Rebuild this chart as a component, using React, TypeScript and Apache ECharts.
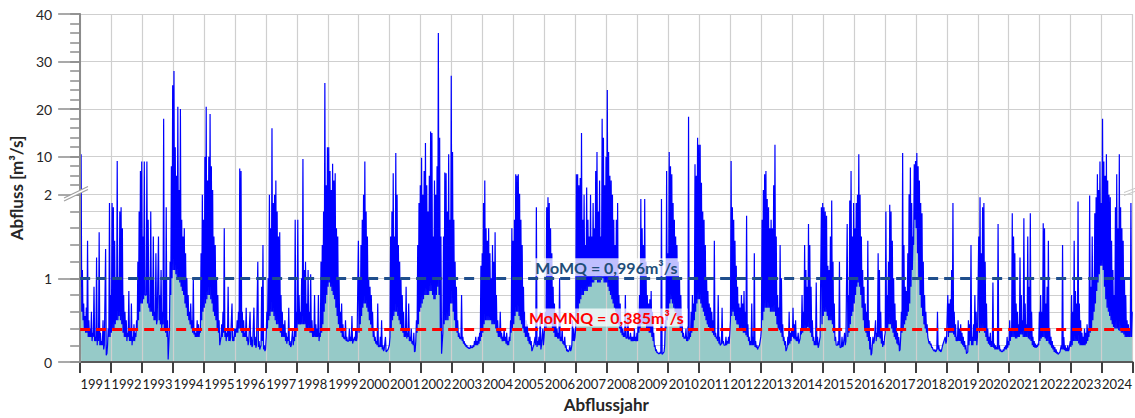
import React, { useEffect, useRef } from "react";
import * as echarts from "echarts";

// Hydrological years (category labels)
const years = ["1991","1992","1993","1994","1995","1996","1997","1998","1999","2000","2001","2002","2003","2004","2005","2006","2007","2008","2009","2010","2011","2012","2013","2014","2015","2016","2017","2018","2019","2020","2021","2022","2023","2024"];

// Discharge peaks [m³/s], one reading per half-month of each hydrological year
const q1991 = [10.5, 1.1, 0.7, 0.55, 0.65, 1.45, 0.5, 0.4, 0.6, 0.35, 0.9, 0.3, 1.25, 0.4, 1.55, 0.35, 0.25, 0.5, 0.2, 1.35, 0.1, 0.4, 1.9, 0.8];
const q1992 = [1.9, 1.85, 1.45, 1.0, 9.1, 1.0, 1.8, 1.85, 1.6, 0.8, 0.6, 0.5, 0.35, 0.85, 0.4, 0.7, 0.3, 0.45, 0.35, 0.5, 1.2, 1.8, 7, 9];
const q1993 = [1.5, 9, 0.8, 9, 1.7, 0.7, 1.8, 1.0, 1.5, 0.6, 1.3, 0.5, 1.5, 0.8, 1.1, 0.6, 18, 1.0, 1.85, 0.5, 0.03, 1.2, 8, 25];
const q1994 = [28, 12, 6, 20.5, 3, 20, 1.7, 1.5, 1.6, 1.3, 1.0, 0.8, 0.6, 0.7, 0.5, 1.0, 0.4, 0.35, 0.5, 0.45, 0.4, 1.3, 2.0, 1.7];
const q1995 = [10, 20.5, 5, 10, 19, 8, 3, 1.5, 1.4, 1.0, 0.8, 0.5, 0.2, 0.45, 0.6, 1.6, 0.4, 0.35, 0.9, 0.4, 0.3, 0.7, 0.3, 0.4];
const q1996 = [0.4, 0.5, 0.6, 7.5, 7, 0.6, 0.5, 0.35, 0.65, 0.3, 0.25, 0.6, 0.3, 0.2, 0.65, 0.3, 0.2, 1.2, 0.25, 0.15, 0.9, 1.4, 0.2, 0.15];
const q1997 = [0.6, 1.0, 2.0, 1.6, 16, 1.9, 2.0, 5, 1.8, 1.5, 1.55, 0.8, 0.6, 0.45, 0.5, 0.35, 0.3, 0.65, 0.25, 0.2, 0.4, 0.3, 1.7, 0.6];
const q1998 = [1.7, 0.8, 0.6, 1.0, 9.5, 1.1, 1.2, 0.7, 1.1, 0.6, 1.05, 0.5, 0.4, 0.8, 0.45, 0.4, 0.8, 0.35, 1.2, 1.4, 1.8, 25.5, 4, 12];
const q1999 = [12, 7, 3, 8.5, 5, 6.5, 1.6, 1.5, 1.0, 0.6, 0.7, 0.45, 0.3, 0.5, 0.3, 0.25, 0.4, 0.3, 0.55, 0.25, 0.3, 0.4, 0.3, 1.45];
const q2000 = [1.0, 1.4, 1.7, 2.0, 9, 1.8, 1.5, 1.0, 0.9, 0.8, 0.6, 0.4, 0.3, 0.25, 0.7, 0.2, 0.3, 0.5, 0.2, 0.15, 0.3, 0.13, 0.15, 0.2];
const q2001 = [1.5, 1.8, 6.5, 1.5, 10.8, 2.0, 1.4, 1.2, 1.0, 0.8, 0.6, 0.4, 0.9, 0.35, 0.7, 0.3, 0.4, 0.25, 0.35, 0.13, 0.5, 1.4, 1.9, 4];
const q2002 = [9.8, 2.0, 7, 12.9, 4, 1.8, 6, 15.3, 15, 1.5, 5, 2.0, 8, 36, 14, 1.5, 0.1, 1.5, 6.7, 6.5, 1.8, 10.5, 1.7, 27];
const q2003 = [11, 1.7, 1.2, 0.9, 0.5, 0.35, 0.3, 0.8, 0.3, 0.25, 0.22, 0.2, 0.18, 0.17, 0.2, 0.18, 0.2, 0.25, 0.3, 0.25, 0.3, 0.35, 1.15, 1.3];
const q2004 = [1.9, 5, 1.6, 1.45, 1.6, 1.3, 1.0, 1.4, 1.2, 1.55, 0.8, 0.5, 0.4, 0.6, 0.35, 0.3, 0.4, 0.3, 0.35, 0.25, 0.3, 0.5, 1.6, 1.45];
const q2005 = [1.7, 6.3, 6, 6.3, 2.2, 1.7, 1.4, 0.9, 0.6, 0.5, 0.45, 0.35, 0.3, 0.25, 0.15, 0.2, 0.3, 1.85, 0.25, 0.3, 0.6, 0.2, 0.4, 0.3];
const q2006 = [0.6, 1.85, 1.97, 1.9, 1.6, 1.3, 0.9, 0.7, 0.5, 0.4, 0.35, 1.0, 0.3, 0.4, 0.25, 0.3, 0.2, 0.15, 0.13, 0.2, 0.15, 0.5, 0.4, 0.3];
const q2007 = [6.3, 6.3, 4, 5.5, 15, 1.7, 2.0, 1.4, 3.5, 1.7, 1.5, 2.0, 1.5, 1.9, 1.6, 7, 11, 1.8, 5, 1.5, 18, 14, 4, 10];
const q2008 = [24, 11, 6, 5, 2.0, 1.7, 1.4, 1.7, 1.9, 0.8, 0.7, 0.45, 0.4, 0.35, 0.8, 0.3, 0.6, 0.3, 0.35, 0.3, 0.3, 0.4, 0.3, 0.35];
const q2009 = [0.6, 0.8, 1.95, 1.6, 1.4, 1.95, 1.2, 0.8, 0.7, 0.75, 0.85, 0.6, 0.35, 0.2, 0.15, 0.12, 0.1, 0.12, 1.95, 0.1, 0.12, 0.5, 7, 1.3];
const q2010 = [11, 8, 6.3, 1.9, 1.7, 1.5, 1.4, 1.2, 1.0, 0.8, 0.5, 0.35, 0.3, 0.4, 0.3, 18.4, 0.35, 0.6, 0.8, 0.7, 8.4, 6, 14, 12.5];
const q2011 = [12.5, 4.5, 1.8, 1.7, 1.4, 1.0, 0.85, 0.7, 0.65, 0.6, 0.5, 1.45, 0.35, 0.3, 0.8, 0.3, 0.2, 0.65, 0.25, 0.2, 0.3, 0.25, 0.3, 0.35];
const q2012 = [9.1, 1.85, 1.7, 1.45, 1.15, 0.9, 0.7, 0.65, 0.8, 0.7, 0.85, 0.6, 1.75, 0.45, 0.3, 0.25, 0.7, 0.3, 1.3, 0.25, 0.2, 0.17, 0.2, 0.3];
const q2013 = [1.7, 3, 6.3, 7, 1.95, 1.85, 1.6, 1.7, 1.6, 4, 12.5, 1.5, 0.8, 0.65, 1.4, 1.0, 0.45, 0.3, 0.25, 0.15, 0.3, 0.6, 0.35, 0.4];
const q2014 = [0.65, 0.45, 0.5, 0.3, 0.35, 0.25, 0.4, 0.8, 0.6, 1.4, 1.1, 0.9, 1.65, 1.4, 0.9, 0.5, 0.3, 0.25, 0.95, 0.3, 0.2, 0.3, 1.85, 1.9];
const q2015 = [1.85, 1.8, 1.75, 1.15, 1.1, 1.5, 1.93, 1.2, 0.7, 0.3, 0.2, 0.25, 1.2, 0.17, 0.3, 0.2, 0.35, 0.25, 1.65, 0.8, 1.93, 7, 1.5, 1.9];
const q2016 = [1.6, 1.9, 2.0, 10.5, 2.0, 1.5, 1.1, 0.9, 0.7, 0.6, 1.45, 0.5, 0.3, 0.1, 0.3, 0.25, 0.5, 0.35, 1.3, 1.1, 0.6, 0.4, 0.25, 0.3];
const q2017 = [1.8, 0.8, 1.2, 1.88, 1.8, 1.45, 1.0, 0.7, 0.5, 0.35, 0.3, 0.15, 0.6, 10.8, 1.4, 0.9, 0.85, 1.3, 2.1, 7.7, 1.9, 1.5, 8.4, 9.1];
const q2018 = [10.8, 8, 5, 1.9, 1.78, 1.2, 0.8, 0.6, 0.45, 0.3, 0.25, 0.22, 0.18, 0.15, 0.15, 0.13, 0.6, 0.2, 0.15, 0.13, 0.2, 0.25, 0.3, 0.25];
const q2019 = [0.8, 0.7, 0.75, 1.1, 1.9, 0.6, 0.45, 0.3, 0.5, 0.4, 0.45, 0.35, 0.3, 0.25, 0.2, 0.1, 0.5, 0.45, 1.4, 0.3, 0.45, 0.8, 0.6, 0.3];
const q2020 = [1.5, 1.97, 1.3, 1.85, 1.9, 1.2, 0.7, 0.4, 0.3, 0.35, 0.25, 0.95, 0.22, 0.2, 0.18, 1.65, 0.2, 0.15, 0.13, 0.15, 0.18, 0.2, 0.3, 0.25];
const q2021 = [0.5, 0.4, 1.78, 1.5, 1.3, 0.7, 0.6, 0.45, 1.25, 0.8, 0.5, 1.72, 0.7, 0.45, 1.5, 0.9, 1.78, 0.6, 0.3, 0.25, 0.22, 0.2, 0.22, 0.6];
const q2022 = [0.8, 0.6, 1.66, 1.6, 0.7, 0.9, 1.45, 0.4, 0.3, 0.25, 0.2, 0.18, 0.15, 0.12, 0.1, 0.12, 0.2, 1.4, 0.3, 0.2, 0.17, 0.2, 0.15, 0.25];
const q2023 = [0.8, 0.6, 1.45, 0.85, 0.7, 1.92, 0.7, 0.5, 0.35, 0.3, 0.4, 0.35, 0.45, 0.4, 1.99, 0.9, 1.5, 1.0, 1.78, 1.97, 6.3, 3, 9, 1.9];
const q2024 = [18, 9, 6, 10.5, 5, 2.0, 1.97, 1.45, 1.1, 0.8, 1.85, 6.3, 1.6, 10.5, 1.85, 1.6, 1.45, 1.0, 0.8, 0.5, 0.45, 0.4, 1.9, 0.6];

// Base flow between the peaks [m³/s] (lower envelope), one reading per half-month
const base1991 = [0.9, 0.6, 0.5, 0.4, 0.35, 0.35, 0.3, 0.3, 0.3, 0.25, 0.3, 0.25, 0.25, 0.2, 0.25, 0.2, 0.2, 0.2, 0.15, 0.2, 0.08, 0.2, 0.3, 0.3];
const base1992 = [0.35, 0.4, 0.4, 0.45, 0.5, 0.5, 0.55, 0.5, 0.45, 0.35, 0.3, 0.3, 0.25, 0.3, 0.25, 0.25, 0.2, 0.25, 0.25, 0.3, 0.4, 0.5, 0.6, 0.7];
const base1993 = [0.7, 0.75, 0.8, 0.8, 0.7, 0.65, 0.6, 0.6, 0.55, 0.5, 0.5, 0.45, 0.5, 0.5, 0.45, 0.4, 0.45, 0.4, 0.35, 0.3, 0.03, 0.4, 0.8, 1.0];
const base1994 = [1.1, 1.1, 1.05, 1.0, 1.0, 0.95, 0.9, 0.85, 0.8, 0.7, 0.65, 0.55, 0.5, 0.45, 0.4, 0.35, 0.33, 0.3, 0.3, 0.3, 0.3, 0.35, 0.5, 0.6];
const base1995 = [0.65, 0.7, 0.75, 0.8, 0.8, 0.75, 0.7, 0.6, 0.55, 0.5, 0.4, 0.35, 0.2, 0.3, 0.3, 0.35, 0.3, 0.25, 0.3, 0.25, 0.25, 0.3, 0.25, 0.25];
const base1996 = [0.3, 0.35, 0.35, 0.4, 0.4, 0.35, 0.3, 0.3, 0.3, 0.25, 0.2, 0.25, 0.2, 0.18, 0.2, 0.2, 0.17, 0.2, 0.18, 0.15, 0.2, 0.25, 0.15, 0.13];
const base1997 = [0.3, 0.4, 0.5, 0.55, 0.6, 0.6, 0.55, 0.5, 0.45, 0.45, 0.4, 0.35, 0.3, 0.3, 0.3, 0.25, 0.22, 0.25, 0.2, 0.18, 0.2, 0.2, 0.25, 0.3];
const base1998 = [0.4, 0.45, 0.45, 0.45, 0.45, 0.45, 0.45, 0.4, 0.4, 0.4, 0.35, 0.35, 0.3, 0.3, 0.3, 0.3, 0.3, 0.25, 0.3, 0.35, 0.45, 0.6, 0.7, 0.8];
const base1999 = [0.9, 0.95, 0.9, 0.85, 0.8, 0.75, 0.65, 0.55, 0.45, 0.4, 0.35, 0.3, 0.28, 0.27, 0.25, 0.25, 0.25, 0.25, 0.25, 0.22, 0.25, 0.25, 0.25, 0.3];
const base2000 = [0.35, 0.45, 0.55, 0.65, 0.7, 0.7, 0.65, 0.6, 0.5, 0.45, 0.4, 0.3, 0.25, 0.22, 0.2, 0.18, 0.18, 0.18, 0.15, 0.13, 0.15, 0.12, 0.13, 0.15];
const base2001 = [0.3, 0.4, 0.5, 0.55, 0.6, 0.6, 0.55, 0.5, 0.45, 0.4, 0.35, 0.3, 0.3, 0.28, 0.3, 0.25, 0.25, 0.22, 0.2, 0.12, 0.25, 0.35, 0.45, 0.6];
const base2002 = [0.65, 0.7, 0.75, 0.8, 0.8, 0.8, 0.8, 0.85, 0.85, 0.8, 0.75, 0.75, 0.8, 0.9, 0.8, 0.4, 0.1, 0.35, 0.45, 0.5, 0.5, 0.5, 0.55, 0.7];
const base2003 = [0.7, 0.6, 0.5, 0.4, 0.35, 0.3, 0.28, 0.27, 0.25, 0.22, 0.2, 0.18, 0.17, 0.16, 0.16, 0.17, 0.17, 0.18, 0.2, 0.2, 0.2, 0.22, 0.25, 0.3];
const base2004 = [0.35, 0.45, 0.5, 0.5, 0.5, 0.5, 0.5, 0.45, 0.45, 0.45, 0.4, 0.35, 0.3, 0.3, 0.28, 0.25, 0.25, 0.25, 0.22, 0.2, 0.2, 0.25, 0.35, 0.4];
const base2005 = [0.45, 0.55, 0.6, 0.6, 0.55, 0.5, 0.45, 0.4, 0.35, 0.3, 0.3, 0.25, 0.22, 0.2, 0.13, 0.18, 0.2, 0.2, 0.18, 0.2, 0.2, 0.15, 0.2, 0.2];
const base2006 = [0.3, 0.4, 0.5, 0.5, 0.5, 0.45, 0.4, 0.35, 0.3, 0.3, 0.28, 0.28, 0.25, 0.25, 0.22, 0.2, 0.17, 0.13, 0.12, 0.15, 0.13, 0.2, 0.25, 0.25];
const base2007 = [0.4, 0.55, 0.6, 0.7, 0.75, 0.8, 0.8, 0.85, 0.85, 0.85, 0.9, 0.9, 0.9, 0.95, 0.95, 1.0, 1.0, 0.95, 0.95, 0.95, 1.0, 1.0, 0.95, 0.95];
const base2008 = [0.95, 0.9, 0.85, 0.8, 0.75, 0.7, 0.65, 0.6, 0.5, 0.45, 0.4, 0.35, 0.32, 0.3, 0.3, 0.28, 0.28, 0.27, 0.27, 0.25, 0.25, 0.25, 0.25, 0.25];
const base2009 = [0.25, 0.35, 0.4, 0.45, 0.45, 0.45, 0.45, 0.4, 0.4, 0.35, 0.35, 0.3, 0.25, 0.18, 0.13, 0.11, 0.1, 0.1, 0.1, 0.09, 0.1, 0.2, 0.4, 0.5];
const base2010 = [0.6, 0.7, 0.75, 0.7, 0.65, 0.6, 0.55, 0.5, 0.45, 0.4, 0.35, 0.3, 0.28, 0.28, 0.25, 0.25, 0.27, 0.3, 0.35, 0.4, 0.5, 0.6, 0.7, 0.75];
const base2011 = [0.75, 0.7, 0.65, 0.6, 0.55, 0.5, 0.45, 0.42, 0.4, 0.37, 0.35, 0.32, 0.3, 0.28, 0.25, 0.22, 0.2, 0.22, 0.22, 0.2, 0.2, 0.2, 0.22, 0.22];
const base2012 = [0.5, 0.55, 0.6, 0.55, 0.5, 0.45, 0.45, 0.4, 0.4, 0.4, 0.35, 0.35, 0.32, 0.3, 0.25, 0.2, 0.2, 0.2, 0.2, 0.18, 0.17, 0.15, 0.17, 0.2];
const base2013 = [0.4, 0.5, 0.6, 0.65, 0.65, 0.65, 0.65, 0.6, 0.6, 0.6, 0.6, 0.55, 0.45, 0.4, 0.38, 0.35, 0.3, 0.25, 0.2, 0.13, 0.18, 0.2, 0.22, 0.25];
const base2014 = [0.3, 0.28, 0.27, 0.25, 0.25, 0.22, 0.28, 0.33, 0.35, 0.4, 0.4, 0.4, 0.42, 0.4, 0.35, 0.3, 0.25, 0.2, 0.2, 0.2, 0.17, 0.2, 0.3, 0.45];
const base2015 = [0.55, 0.6, 0.6, 0.55, 0.5, 0.5, 0.5, 0.45, 0.35, 0.25, 0.2, 0.2, 0.2, 0.17, 0.18, 0.18, 0.2, 0.2, 0.25, 0.3, 0.35, 0.45, 0.55, 0.6];
const base2016 = [0.7, 0.8, 0.9, 0.95, 0.9, 0.8, 0.65, 0.5, 0.4, 0.35, 0.3, 0.25, 0.15, 0.08, 0.2, 0.22, 0.25, 0.25, 0.3, 0.3, 0.28, 0.22, 0.18, 0.2];
const base2017 = [0.35, 0.4, 0.4, 0.45, 0.45, 0.4, 0.35, 0.3, 0.27, 0.22, 0.2, 0.13, 0.3, 0.35, 0.4, 0.45, 0.5, 0.55, 0.6, 0.7, 0.9, 1.1, 1.4, 1.7];
const base2018 = [1.6, 1.3, 1.0, 0.8, 0.65, 0.55, 0.45, 0.4, 0.35, 0.3, 0.22, 0.2, 0.17, 0.15, 0.13, 0.12, 0.15, 0.15, 0.13, 0.12, 0.13, 0.2, 0.25, 0.22];
const base2019 = [0.25, 0.3, 0.35, 0.35, 0.35, 0.33, 0.3, 0.25, 0.25, 0.25, 0.25, 0.22, 0.2, 0.18, 0.15, 0.1, 0.12, 0.2, 0.25, 0.2, 0.2, 0.25, 0.25, 0.2];
const base2020 = [0.3, 0.35, 0.4, 0.4, 0.38, 0.35, 0.3, 0.25, 0.22, 0.2, 0.18, 0.18, 0.17, 0.15, 0.15, 0.15, 0.15, 0.13, 0.12, 0.12, 0.13, 0.15, 0.15, 0.17];
const base2021 = [0.2, 0.25, 0.3, 0.3, 0.3, 0.28, 0.28, 0.3, 0.3, 0.33, 0.33, 0.3, 0.3, 0.3, 0.3, 0.28, 0.27, 0.25, 0.2, 0.18, 0.17, 0.17, 0.18, 0.2];
const base2022 = [0.25, 0.28, 0.3, 0.3, 0.28, 0.25, 0.25, 0.22, 0.2, 0.17, 0.15, 0.12, 0.11, 0.1, 0.09, 0.1, 0.12, 0.15, 0.15, 0.14, 0.13, 0.13, 0.13, 0.15];
const base2023 = [0.18, 0.2, 0.25, 0.25, 0.25, 0.25, 0.22, 0.2, 0.2, 0.2, 0.2, 0.2, 0.22, 0.25, 0.3, 0.35, 0.4, 0.5, 0.6, 0.7, 0.85, 0.95, 1.05, 1.15];
const base2024 = [1.15, 1.1, 0.9, 0.75, 0.65, 0.6, 0.55, 0.5, 0.45, 0.42, 0.4, 0.4, 0.4, 0.38, 0.37, 0.35, 0.35, 0.33, 0.3, 0.3, 0.3, 0.3, 0.3, 0.3];

const yearlyPeaks = [q1991, q1992, q1993, q1994, q1995, q1996, q1997, q1998, q1999, q2000, q2001, q2002, q2003, q2004, q2005, q2006, q2007, q2008, q2009, q2010, q2011, q2012, q2013, q2014, q2015, q2016, q2017, q2018, q2019, q2020, q2021, q2022, q2023, q2024];
const yearlyBase = [base1991, base1992, base1993, base1994, base1995, base1996, base1997, base1998, base1999, base2000, base2001, base2002, base2003, base2004, base2005, base2006, base2007, base2008, base2009, base2010, base2011, base2012, base2013, base2014, base2015, base2016, base2017, base2018, base2019, base2020, base2021, base2022, base2023, base2024];

// Reference values
const MoMQ = 0.996;
const MoMNQ = 0.385;

// Axis labels (broken axis: 0–2 linear, 2–40 compressed)
const yLabelValues = [0, 1, 2, 10, 20, 30, 40];
const BREAK = 2;
const Y_MAX = 40;
const UPPER_SCALE = 4.834 / 85;

const T = (v: number) => (v <= BREAK ? v : BREAK + (v - BREAK) * UPPER_SCALE);
const Tinv = (t: number) => (t <= BREAK + 1e-9 ? t : BREAK + (t - BREAK) / UPPER_SCALE);

const round = (n: number) => Math.round(n * 1e6) / 1e6;

const lowSteps: number[] = [];
for (let i = 0; i <= 10; i++) lowSteps.push(round(i * 0.2));
const upperMinor: number[] = [];
for (let v = 4; v <= Y_MAX; v += 2) upperMinor.push(round(T(v)));
const minorTicks = [...lowSteps, ...upperMinor];
const majorTicks = yLabelValues.map((v) => round(T(v)));
const gridValues = [...lowSteps, ...[10, 20, 30, 40].map((v) => round(T(v)))];

const FONT = "Lato, 'Open Sans', sans-serif";

export default function App() {
  const ref = useRef<HTMLDivElement>(null);

  useEffect(() => {
    if (!ref.current) return;
    const chart = echarts.init(ref.current, null, { renderer: "svg" });

    const data: number[][] = [];
    yearlyPeaks.forEach((peaks, i) => {
      const base = yearlyBase[i];
      const n = peaks.length * 2;
      peaks.forEach((p, j) => {
        data.push([i + (2 * j + 0.5) / n, T(base[j])]);
        data.push([i + (2 * j + 1.5) / n, T(p)]);
      });
    });

    const fmt = (v: number) => v.toFixed(3).replace(".", ",");

    const commonY = {
      type: "value",
      min: 0,
      max: T(Y_MAX),
      position: "left",
    };

    const option: any = {
      animation: false,
      backgroundColor: "#ffffff",
      grid: { left: 76, top: 14, width: 1061.5, height: 353.7, containLabel: false },
      xAxis: [
        {
          type: "category",
          data: years,
          boundaryGap: true,
          position: "bottom",
          z: 1.5,
          axisLine: { show: true, lineStyle: { color: "#595959", width: 2 } },
          axisTick: { show: true, length: 11, lineStyle: { color: "#404040", width: 2 } },
          axisLabel: { interval: 0, margin: 15, color: "#1a1a1a", fontSize: 13, fontFamily: FONT },
          splitLine: { show: true, lineStyle: { color: "#cfcfcf", width: 1.2 } },
          name: "Abflussjahr",
          nameLocation: "middle",
          nameGap: 34,
          nameTextStyle: { fontFamily: FONT, fontWeight: "bold", fontSize: 17, color: "#262626" },
        },
        { type: "value", min: 0, max: years.length, show: false, position: "bottom" },
      ],
      yAxis: [
        {
          ...commonY,
          z: 3,
          axisLine: { show: true, lineStyle: { color: "#8c8c8c", width: 2 } },
          axisTick: { show: true, length: 10, customValues: minorTicks, lineStyle: { color: "#8c8c8c", width: 1.5 } },
          axisLabel: {
            customValues: majorTicks,
            formatter: (val: number) => String(Math.round(Tinv(val))),
            margin: 28,
            color: "#262626",
            fontSize: 14,
            fontFamily: FONT,
          },
          splitLine: { show: false },
          name: "Abfluss [m³/s]",
          nameLocation: "middle",
          nameGap: 48,
          nameRotate: 90,
          nameTextStyle: { fontFamily: FONT, fontWeight: "bold", fontSize: 17, color: "#262626" },
        },
        {
          ...commonY,
          z: 3,
          axisLine: { show: false },
          axisTick: { show: true, length: 22, customValues: majorTicks, lineStyle: { color: "#8c8c8c", width: 1.5 } },
          axisLabel: { show: false },
          splitLine: { show: false },
        },
        {
          ...commonY,
          axisLine: { show: false },
          axisTick: { show: false, customValues: gridValues },
          axisLabel: { show: false },
          splitLine: { show: true, lineStyle: { color: "#cfcfcf", width: 1.2 } },
        },
      ],
      series: [
        {
          type: "line",
          name: "fill",
          xAxisIndex: 1,
          yAxisIndex: 0,
          z: 1,
          data,
          symbol: "none",
          lineStyle: { width: 0, opacity: 0 },
          areaStyle: { color: "#96cac8", opacity: 1 },
          silent: true,
        },
        {
          type: "line",
          name: "Abfluss",
          xAxisIndex: 1,
          yAxisIndex: 0,
          z: 2,
          data,
          symbol: "none",
          lineStyle: { color: "#0000ff", width: 1.2 },
          silent: true,
          markLine: {
            silent: true,
            symbol: ["none", "none"],
            animation: false,
            data: [
              {
                yAxis: T(MoMQ),
                lineStyle: { color: "#1f4e8c", type: [10, 6], width: 3 },
                label: {
                  show: true,
                  position: "middle",
                  formatter: `MoMQ = ${fmt(MoMQ)}m³/s`,
                  color: "#1f4e79",
                  fontFamily: FONT,
                  fontWeight: "bold",
                  fontSize: 16,
                  backgroundColor: "rgba(255,255,255,0.75)",
                  padding: [1, 4, 1, 4],
                  distance: 2,
                },
              },
              {
                yAxis: T(MoMNQ),
                lineStyle: { color: "#ff0000", type: [10, 6], width: 3 },
                label: {
                  show: true,
                  position: "middle",
                  formatter: `MoMNQ = ${fmt(MoMNQ)}m³/s`,
                  color: "#ff0000",
                  fontFamily: FONT,
                  fontWeight: "bold",
                  fontSize: 16,
                  backgroundColor: "rgba(255,255,255,0.75)",
                  padding: [1, 4, 1, 4],
                  distance: 3,
                },
              },
            ],
          },
        },
      ],
      graphic: [
        {
          type: "polygon",
          z: 100,
          shape: { points: [[64, 198], [88, 186.5], [88, 189.5], [64, 201]] },
          style: { fill: "#ffffff" },
        },
        { type: "line", z: 101, shape: { x1: 64, y1: 198, x2: 88, y2: 186.5 }, style: { stroke: "#a0a0a0", lineWidth: 1.2 } },
        { type: "line", z: 101, shape: { x1: 64, y1: 201, x2: 88, y2: 189.5 }, style: { stroke: "#a0a0a0", lineWidth: 1.2 } },
        { type: "line", z: 101, shape: { x1: 1124, y1: 192.5, x2: 1136, y2: 188 }, style: { stroke: "#c8c8c8", lineWidth: 1 } },
        { type: "line", z: 101, shape: { x1: 1124, y1: 195.5, x2: 1136, y2: 191 }, style: { stroke: "#c8c8c8", lineWidth: 1 } },
      ],
    };

    chart.setOption(option);
    return () => chart.dispose();
  }, []);

  return (
    <div
      ref={ref}
      style={{ position: "absolute", left: 0, top: 0, width: 1135, height: 418, background: "#fff" }}
    />
  );
}
